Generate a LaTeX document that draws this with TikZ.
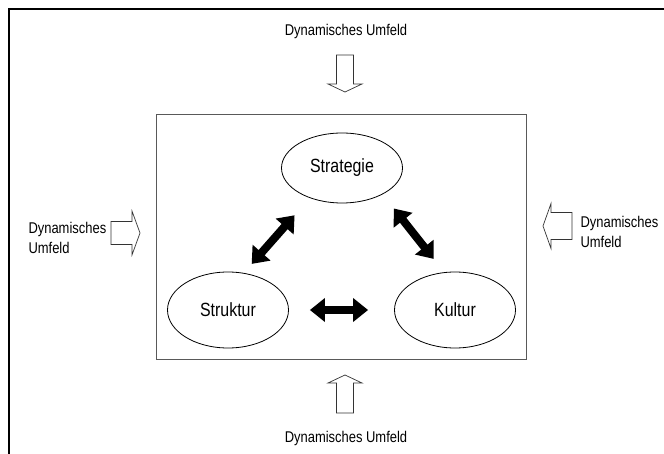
\documentclass[tikz,border=0pt]{standalone}
\usepackage{fontspec}
\setmainfont{Liberation Sans}
\usepackage{graphicx}
\usepackage{tikz}
\usetikzlibrary{arrows.meta, positioning, shapes.geometric, calc}
\colorlet{framegray}{black!65}
\newcommand{\tall}[1]{\scalebox{1}[1.2]{#1}}
\tikzset{
  envtext/.style={font=\fontsize{13}{20}\selectfont, align=left},
  factor/.style={ellipse, draw=black, line width=0.8bp, minimum width=121bp, minimum height=70bp, font=\fontsize{16}{18}\selectfont},
  dblarrow/.style={line width=8bp, {Triangle[length=15bp,width=23bp]}-{Triangle[length=15bp,width=23bp]}},
  blockarrow/.style={draw=black!80, line width=0.7bp, fill=white, line join=miter}
}
% tip, direction, length, head half width, shaft half width
\newcommand{\blockarrow}[5]{%
  \draw[blockarrow, shift={#1}, rotate=#2] (0,0) -- (-8,#4) -- (-8,#5) -- (-#3,#5)
    -- (-#3,-#5) -- (-8,-#5) -- (-8,-#4) -- cycle;}

\begin{document}
\begin{tikzpicture}[x=1bp, y=-1bp]
  \useasboundingbox (0,0) rectangle (664,454);
  % outer frame (cut at the page edge)
  \draw[line width=2bp] (8.5,454) -- (8.5,9.5) -- (664,9.5);
  \draw[framegray, line width=1bp] (156,115) rectangle (526,359);

  \node[factor] (strat) at (342,168) {\tall{Strategie}};
  \node[factor, minimum height=76bp] (strukt) at (228,310) {\tall{Struktur}};
  \node[factor, minimum height=76bp] (kult) at (455,310) {\tall{Kultur}};

  \draw[dblarrow, shorten <=12bp, shorten >=23bp] (strukt.67) -- (strat.223);
  \draw[dblarrow, shorten <=18bp, shorten >=17bp] (strat.-33) -- (kult.106);
  \draw[dblarrow, shorten <=21bp, shorten >=26bp] (strukt.east) -- (kult.west);

  \node[envtext] (envN) at (346,31) {\tall{Dynamisches Umfeld}};
  \node[envtext] (envS) at (346,438) {\tall{Dynamisches Umfeld}};
  \node[envtext, anchor=west] (envW) at (25,238) {\tall{Dynamisches}\\\tall{Umfeld}};
  \node[envtext, anchor=west] (envE) at (577,232) {\tall{Dynamisches}\\\tall{Umfeld}};

  \blockarrow{(345,92)}{-90}{37}{17}{8.5}
  \blockarrow{(345,375)}{90}{38}{17}{8.5}
  \blockarrow{(140,233)}{0}{29}{22}{11.5}
  \blockarrow{(543,226)}{180}{29}{22.5}{13.5}
\end{tikzpicture}
\end{document}
